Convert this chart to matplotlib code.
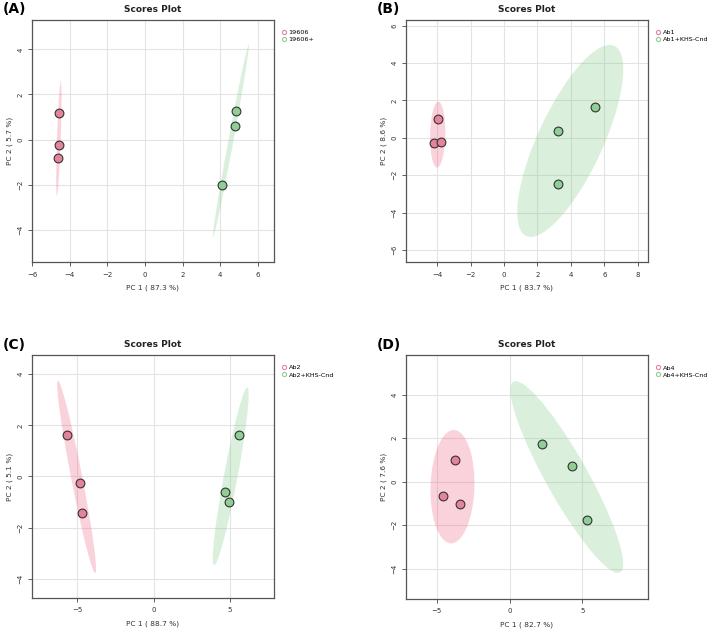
import matplotlib
matplotlib.use('Agg')
import matplotlib.pyplot as plt
from matplotlib.patches import Ellipse
from matplotlib.lines import Line2D
import numpy as np

# scores per panel: (x, y) for group 1 and group 2
a_grp1 = [[-4.55, 1.20], [-4.55, -0.22], [-4.65, -0.82]]
a_grp2 = [[4.82, 1.27], [4.78, 0.60], [4.12, -2.03]]
b_grp1 = [[-3.95, 1.00], [-4.15, -0.27], [-3.78, -0.22]]
b_grp2 = [[3.22, 0.35], [3.20, -2.48], [5.45, 1.62]]
c_grp1 = [[-5.65, 1.63], [-4.80, -0.25], [-4.70, -1.42]]
c_grp2 = [[5.58, 1.63], [4.65, -0.62], [4.90, -1.00]]
d_grp1 = [[-3.75, 0.98], [-4.60, -0.65], [-3.40, -1.02]]
d_grp2 = [[2.20, 1.72], [4.30, 0.70], [5.30, -1.78]]

panel_tags = ['(A)', '(B)', '(C)', '(D)']
group_names = [['19606', '19606+'], ['Ab1', 'Ab1+KHS-Cnd'],
               ['Ab2', 'Ab2+KHS-Cnd'], ['Ab4', 'Ab4+KHS-Cnd']]
pc1_pct = [87.3, 83.7, 88.7, 82.7]
pc2_pct = [5.7, 8.6, 5.1, 7.6]
x_ticks = [[-6, -4, -2, 0, 2, 4, 6], [-4, -2, 0, 2, 4, 6, 8], [-5, 0, 5], [-5, 0, 5]]
y_ticks = [[-4, -2, 0, 2, 4], [-6, -4, -2, 0, 2, 4, 6], [-4, -2, 0, 2, 4], [-4, -2, 0, 2, 4]]
x_lims = [(-6.03, 6.87), (-5.87, 8.6), (-7.99, 7.88), (-7.13, 9.51)]
y_lims = [(-5.43, 5.30), (-6.66, 6.30), (-4.74, 4.74), (-5.38, 5.81)]

PT_COLS = ['#e4839a', '#8fcf95']
ELL_COLS = ['#f06a8c', '#86cf8e']
CHI2_95 = 5.991  # qchisq(0.95, 2)


def conf_ellipse(ax, pts, color):
    pts = np.asarray(pts)
    cov = np.cov(pts, rowvar=False)
    vals, vecs = np.linalg.eigh(cov)
    order = vals.argsort()[::-1]
    vals, vecs = vals[order], vecs[:, order]
    angle = np.degrees(np.arctan2(vecs[1, 0], vecs[0, 0]))
    w, h = 2 * np.sqrt(vals * CHI2_95)
    e = Ellipse(pts.mean(axis=0), w, h, angle=angle, facecolor=color,
                edgecolor='none', alpha=0.3, zorder=1)
    ax.add_patch(e)


fig = plt.figure(figsize=(7.09, 6.32), dpi=100)
boxes = [[0.0447, 0.585, 0.3418, 0.3834], [0.5722, 0.585, 0.3418, 0.3834],
         [0.0447, 0.0543, 0.3418, 0.3835], [0.5722, 0.0527, 0.3418, 0.3851]]
all_groups = [[a_grp1, a_grp2], [b_grp1, b_grp2], [c_grp1, c_grp2], [d_grp1, d_grp2]]

for i in range(4):
    ax = fig.add_axes(boxes[i])
    for g, pts in enumerate(all_groups[i]):
        conf_ellipse(ax, pts, ELL_COLS[g])
        pts = np.asarray(pts)
        ax.scatter(pts[:, 0], pts[:, 1], s=40, c=PT_COLS[g], edgecolors='#333333',
                   linewidths=0.8, zorder=3)
    ax.set_xlim(*x_lims[i])
    ax.set_ylim(*y_lims[i])
    ax.set_xticks(x_ticks[i])
    ax.set_yticks(y_ticks[i])
    ax.grid(True, color='#e3e3e3', linewidth=0.8, zorder=0)
    ax.set_axisbelow(True)
    ax.tick_params(labelsize=5, length=3, width=0.6, color='#444444',
                   labelcolor='#333333', pad=4)
    ax.tick_params(axis='y', pad=3)
    for lab in ax.get_yticklabels():
        lab.set_rotation(90)
        lab.set_va('center')
    for sp in ax.spines.values():
        sp.set_color('#555555')
        sp.set_linewidth(0.9)
    ax.set_title('Scores Plot', fontsize=6.5, fontweight='bold', pad=6, color='#222222')
    ax.set_xlabel('PC 1 ( %.1f %%)' % pc1_pct[i], fontsize=5.3, color='#333333', labelpad=5)
    ax.set_ylabel('PC 2 ( %.1f %%)' % pc2_pct[i], fontsize=5.3, color='#333333', labelpad=3)
    handles = [Line2D([], [], linestyle='none', marker='o', markersize=3,
                      markerfacecolor='none', markeredgecolor=PT_COLS[g],
                      markeredgewidth=0.8, label=group_names[i][g]) for g in range(2)]
    ax.legend(handles=handles, loc='upper left', bbox_to_anchor=(1.03, 0.96),
              frameon=False, fontsize=4.6, handletextpad=0.35, handlelength=0.8,
              labelspacing=0.25, borderaxespad=0, borderpad=0)
    bx = boxes[i]
    fig.text(bx[0] - 0.041, bx[1] + bx[3] + 0.017, panel_tags[i], fontsize=10,
             fontweight='bold', va='center', ha='left')

fig.savefig('out.png', dpi=100)
